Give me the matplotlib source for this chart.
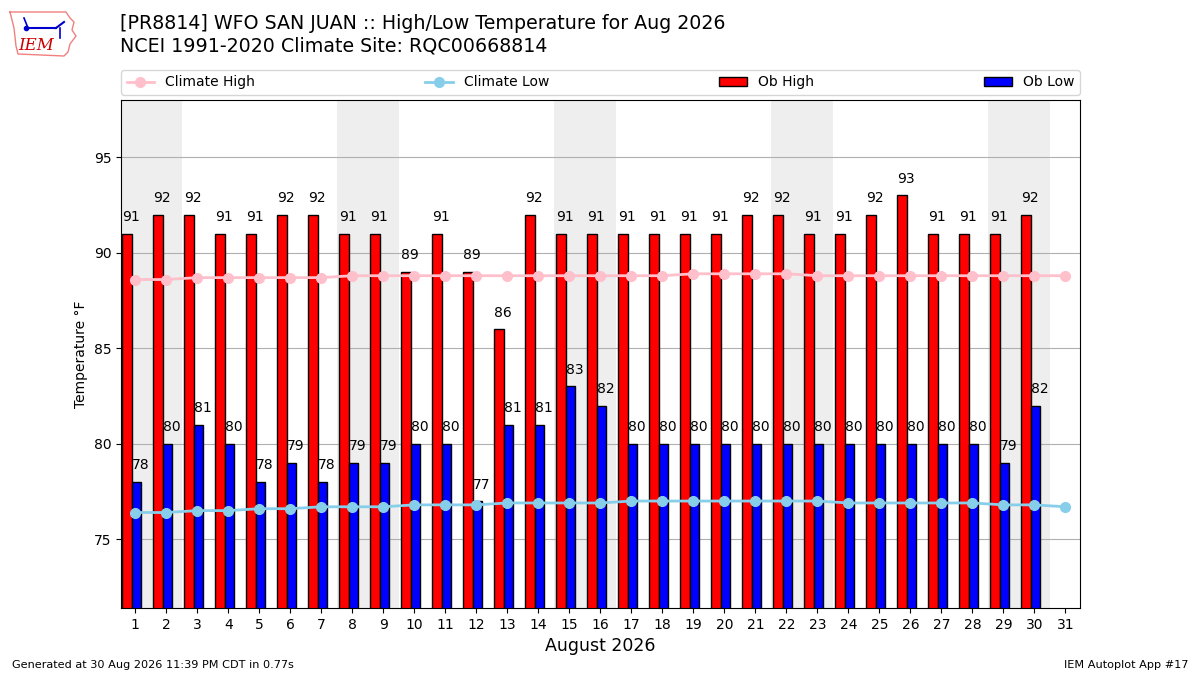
#!/usr/bin/env python3
"""Daily high/low temperature bars vs climatology, Aug 2026, WFO San Juan."""

import matplotlib
matplotlib.use("Agg")
import matplotlib.pyplot as plt
import numpy as np

days = list(range(1, 32))
ob_high = [91, 92, 92, 91, 91, 92, 92, 91, 91, 89, 91, 89, 86, 92, 91, 91,
           91, 91, 91, 91, 92, 92, 91, 91, 92, 93, 91, 91, 91, 92]
ob_low = [78, 80, 81, 80, 78, 79, 78, 79, 79, 80, 80, 77, 81, 81, 83, 82,
          80, 80, 80, 80, 80, 80, 80, 80, 80, 80, 80, 80, 79, 82]
clim_high = [88.6, 88.6, 88.7, 88.7, 88.7, 88.7, 88.7, 88.8, 88.8, 88.8, 88.8,
             88.8, 88.8, 88.8, 88.8, 88.8, 88.8, 88.8, 88.9, 88.9, 88.9, 88.9,
             88.8, 88.8, 88.8, 88.8, 88.8, 88.8, 88.8, 88.8, 88.8]
clim_low = [76.4, 76.4, 76.5, 76.5, 76.6, 76.6, 76.7, 76.7, 76.7, 76.8, 76.8,
            76.8, 76.9, 76.9, 76.9, 76.9, 77.0, 77.0, 77.0, 77.0, 77.0, 77.0,
            77.0, 76.9, 76.9, 76.9, 76.9, 76.9, 76.8, 76.8, 76.7]
weekend_starts = [1, 8, 15, 22, 29]

title = ("[PR8814] WFO SAN JUAN :: High/Low Temperature for Aug 2026\n"
         "NCEI 1991-2020 Climate Site: RQC00668814")

fig = plt.figure(figsize=(12, 6.75), dpi=100)
ax = fig.add_axes([121 / 1200, 1 - 608 / 675, 959 / 1200, 508 / 675])

for d in weekend_starts:
    ax.axvspan(d - 0.5, d + 1.5, color="#eeeeee", zorder=0, lw=0)

obs_days = np.array(days[:len(ob_high)])
ax.bar(obs_days - 0.42, ob_high, width=0.3, align="edge", color="r",
       edgecolor="k", label="Ob High", zorder=2)
ax.bar(obs_days - 0.12, ob_low, width=0.3, align="edge", color="b",
       edgecolor="k", label="Ob Low", zorder=2)
for d, hi, lo in zip(obs_days, ob_high, ob_low):
    ax.text(d - 0.42, hi + 0.5, f"{hi}", ha="left", va="bottom", fontsize=10)
    ax.text(d - 0.12, lo + 0.5, f"{lo}", ha="left", va="bottom", fontsize=10)

ax.plot(days, clim_high, "-o", color="pink", lw=2, ms=7,
        label="Climate High", zorder=3)
ax.plot(days, clim_low, "-o", color="skyblue", lw=2, ms=7,
        label="Climate Low", zorder=3)

ax.set_xlim(0.54, 31.47)
ax.set_ylim(71.4, 98)
ax.set_xticks(days)
ax.set_yticks([75, 80, 85, 90, 95])
ax.yaxis.grid(True, color="#b0b0b0", zorder=1)
ax.set_axisbelow(True)
ax.set_ylabel("Temperature °F")
ax.set_xlabel("August 2026", fontsize=12.5)

handles, labels = ax.get_legend_handles_labels()
order = [labels.index(n) for n in ["Climate High", "Climate Low", "Ob High", "Ob Low"]]
ax.legend([handles[i] for i in order], [labels[i] for i in order], ncol=4,
          loc="lower left", mode="expand", bbox_to_anchor=(0, 1.01, 1, 0.05),
          borderaxespad=0, fontsize=10)

fig.text(120 / 1200, 1 - 14 / 675, title, ha="left", va="top", fontsize=13.7,
         linespacing=1.25)
fig.text(12 / 1200, 1 - 665 / 675, "Generated at 30 Aug 2026 11:39 PM CDT in 0.77s",
         ha="left", va="center", fontsize=8.1)
fig.text(1188 / 1200, 1 - 665 / 675, "IEM Autoplot App #17",
         ha="right", va="center", fontsize=8.1)

# rough stand-in for the IEM logo
logo = fig.add_axes([8 / 1200, 1 - 58 / 675, 72 / 1200, 52 / 675])
logo.set_xlim(0, 72)
logo.set_ylim(0, 52)
logo.axis("off")
outline_x = [2, 58, 62, 66, 64, 68, 62, 60, 56, 10, 8, 6, 2]
outline_y = [46, 46, 40, 36, 28, 22, 14, 6, 2, 4, 12, 30, 46]
logo.plot(outline_x, outline_y, color="#f08080", lw=1)
logo.plot([18, 48], [30, 30], color="#0000cc", lw=1.5)
logo.plot([48, 56], [30, 36], color="#0000cc", lw=1.5)
logo.plot([20, 16], [30, 40], color="#0000cc", lw=1.2)
logo.plot([52, 52], [30, 20], color="#0000cc", lw=1.2)
logo.plot([18], [30], "o", color="#0000cc", ms=3)
logo.text(10, 12, "IEM", color="#cc0000", fontsize=12, style="italic",
          family="DejaVu Serif", ha="left", va="center")

fig.savefig("out.png", dpi=100)
